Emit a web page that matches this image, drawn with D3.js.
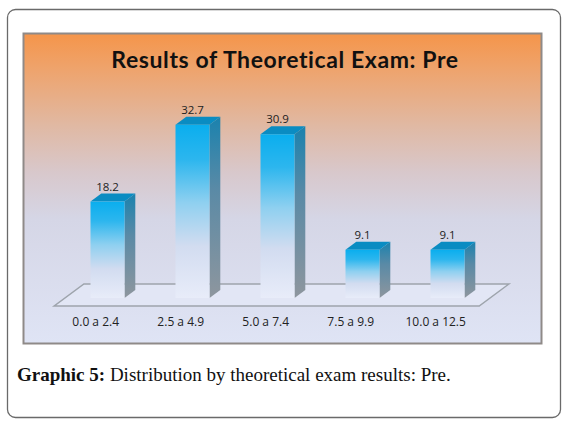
<!DOCTYPE html>
<html>
<head>
<meta charset="utf-8">
<script src="https://cdn.jsdelivr.net/npm/d3@7"></script>
<style>
  body { margin: 0; background: #fff; }
  svg { display: block; }
</style>
</head>
<body>
<svg id="chart"></svg>
<script>
// data
const categories = ["0.0 a 2.4", "2.5 a 4.9", "5.0 a 7.4", "7.5 a 9.9", "10.0 a 12.5"];
const values = [18.2, 32.7, 30.9, 9.1, 9.1];
const title = "Results of Theoretical Exam: Pre";

const W = 570, H = 422;
const svg = d3.select("#chart").attr("width", W).attr("height", H);

const defs = svg.append("defs");

// panel background: orange top fading to lavender
const bg = defs.append("linearGradient").attr("id", "bg")
    .attr("x1", 0).attr("y1", 0).attr("x2", 0).attr("y2", 1);
[[0, "#f5954a"], [0.12, "#eea46e"], [0.3, "#e0b9a4"], [0.45, "#d8c8cc"],
 [0.6, "#d5d6e6"], [1, "#dfe4f5"]].forEach(s =>
    bg.append("stop").attr("offset", s[0]).attr("stop-color", s[1]));

const front = defs.append("linearGradient").attr("id", "front")
    .attr("x1", 0).attr("y1", 0).attr("x2", 0).attr("y2", 1);
[[0, "#0aaeee"], [0.2, "#2cb6ee"], [0.45, "#8fd0f0"], [0.7, "#d2dcf0"], [1, "#e8ecf9"]].forEach(s =>
    front.append("stop").attr("offset", s[0]).attr("stop-color", s[1]));

const side = defs.append("linearGradient").attr("id", "side")
    .attr("x1", 0).attr("y1", 0).attr("x2", 0).attr("y2", 1);
[[0, "#1a82ae"], [0.4, "#5a8aa6"], [1, "#8e969e"]].forEach(s =>
    side.append("stop").attr("offset", s[0]).attr("stop-color", s[1]));

// outer frame
svg.append("rect")
    .attr("x", 7.5).attr("y", 9.5).attr("width", 553).attr("height", 408)
    .attr("rx", 8).attr("fill", "#fff").attr("stroke", "#6a6a6a").attr("stroke-width", 1.3);

// chart panel
svg.append("rect")
    .attr("x", 23.5).attr("y", 33.5).attr("width", 518).attr("height", 310)
    .attr("fill", "url(#bg)").attr("stroke", "#8f8a88").attr("stroke-width", 2);

svg.append("text")
    .attr("x", 285).attr("y", 68)
    .attr("text-anchor", "middle")
    .style("font-family", "Lato, 'Open Sans', sans-serif")
    .style("font-weight", "bold")
    .style("font-size", "23px")
    .style("letter-spacing", "0.6px")
    .style("fill", "#111")
    .text(title);

// scales
const xScale = d3.scaleBand()
    .domain(categories)
    .range([65, 490])
    .paddingInner(0.6)
    .paddingOuter(0.3);

const yScale = d3.scaleLinear()
    .domain([0, 40])
    .range([298, 86]);

// depth offsets (3d look)
const ddx = 1.35, ddy = -1;
const barDepth = 8, floorFront = 8, floorDepth = 22;

// floor
const fx0 = xScale.range()[0] - floorFront * ddx, fx1 = xScale.range()[1] - floorFront * ddx;
const fy = yScale(0) + floorFront;
const floorPts = [
    [fx0, fy], [fx1, fy],
    [fx1 + floorDepth * ddx, fy + floorDepth * ddy],
    [fx0 + floorDepth * ddx, fy + floorDepth * ddy]
];
svg.append("polygon")
    .attr("points", floorPts.map(p => p.join(",")).join(" "))
    .attr("fill", "#e2e6f5")
    .attr("stroke", "#9ea4ac")
    .attr("stroke-width", 1.5);

const bars = svg.append("g").selectAll("g")
    .data(values)
    .join("g");

const bw = xScale.bandwidth();
const ox = barDepth * ddx, oy = barDepth * ddy;

// side face
bars.append("polygon")
    .attr("points", (d, i) => {
        const x = xScale(categories[i]) + bw, y0 = yScale(d), y1 = yScale(0);
        return [[x, y0], [x + ox, y0 + oy], [x + ox, y1 + oy], [x, y1]].map(p => p.join(",")).join(" ");
    })
    .attr("fill", "url(#side)");

// top face
bars.append("polygon")
    .attr("points", (d, i) => {
        const x = xScale(categories[i]), y = yScale(d);
        return [[x, y], [x + ox, y + oy], [x + bw + ox, y + oy], [x + bw, y]].map(p => p.join(",")).join(" ");
    })
    .attr("fill", "#0a8cc2");

// front face
bars.append("rect")
    .attr("x", (d, i) => xScale(categories[i]))
    .attr("y", d => yScale(d))
    .attr("width", bw)
    .attr("height", d => yScale(0) - yScale(d))
    .attr("fill", "url(#front)");

// value labels
bars.append("text")
    .attr("x", (d, i) => xScale(categories[i]) + bw / 2)
    .attr("y", d => yScale(d) + oy - 3)
    .attr("text-anchor", "middle")
    .style("font-family", "'Open Sans', sans-serif")
    .style("font-size", "11.5px")
    .style("fill", "#222")
    .text(d => d);

// category axis along the floor's front edge
const xAxis = d3.axisBottom(xScale).tickSize(0).tickPadding(0);
const axisG = svg.append("g")
    .attr("transform", `translate(${-floorFront * ddx - 1}, ${fy + 11})`)
    .call(xAxis);
axisG.select(".domain").remove();
axisG.selectAll("text")
    .attr("dy", "0.71em")
    .style("font-family", "'Open Sans', sans-serif")
    .style("font-size", "12px")
    .style("fill", "#222");

// caption
const cap = svg.append("text")
    .attr("x", 17).attr("y", 381)
    .style("font-family", "'Liberation Serif', serif")
    .style("font-size", "19px")
    .style("fill", "#111");
cap.append("tspan").style("font-weight", "bold").text("Graphic 5:");
cap.append("tspan").text(" Distribution by theoretical exam results: Pre.");
</script>
</body>
</html>
